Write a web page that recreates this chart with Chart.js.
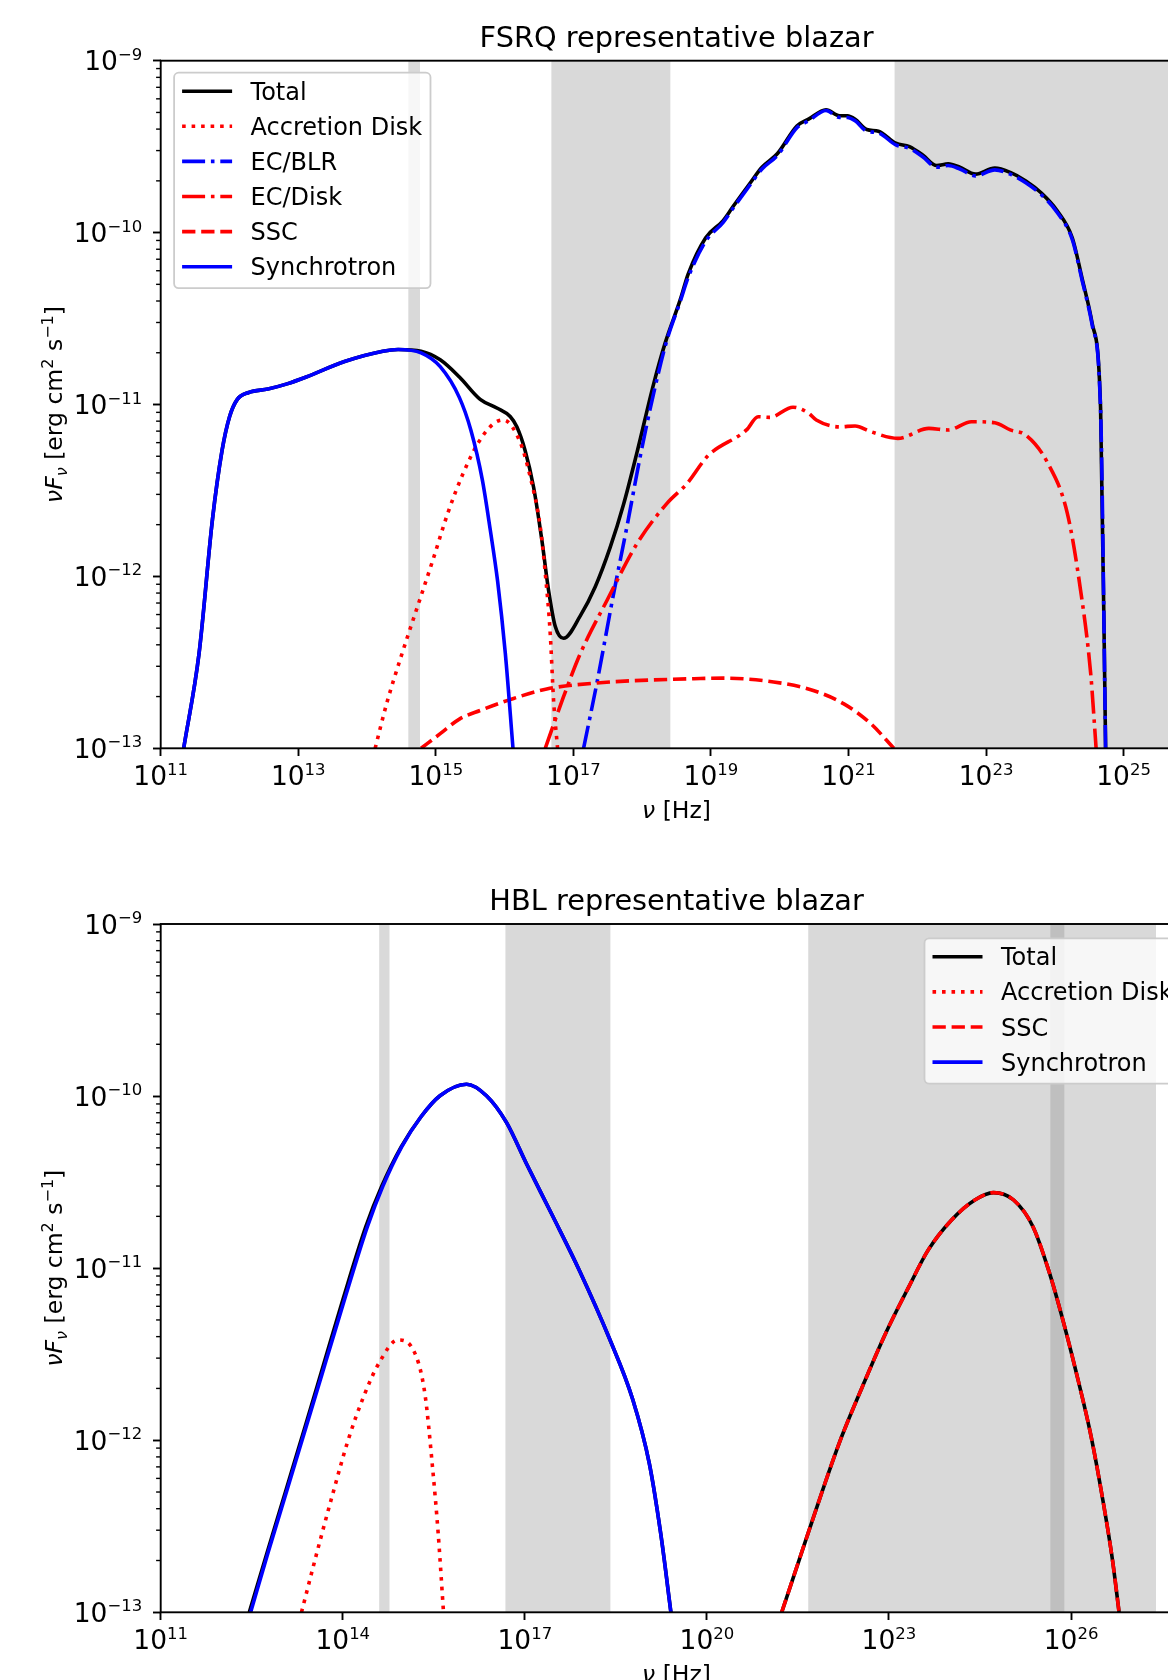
<!DOCTYPE html>
<html>
<head>
<meta charset="utf-8">
<script src="https://cdn.jsdelivr.net/npm/chart.js@4.4.1/dist/chart.umd.min.js"></script>
<style>
  html, body { margin: 0; padding: 0; background: #fff; overflow: hidden; width: 1168px; height: 1680px; }
  canvas { display: block; }
</style>
</head>
<body>
<canvas id="fsrq" width="1240" height="840"></canvas>
<canvas id="hbl" width="1240" height="840"></canvas>
<script>
// values are log10(nu [Hz]) and log10(nuFnu [erg cm^-2 s^-1])
const fsrqTotal = [[11.334,-13.0],[11.557,-12.45],[11.752,-11.67],[11.891,-11.27],[12.002,-11.07],[12.114,-10.97],[12.281,-10.93],[12.559,-10.91],[12.837,-10.88],[13.116,-10.84],[13.673,-10.75],[14.229,-10.69],[14.452,-10.68],[14.786,-10.69],[15.064,-10.74],[15.343,-10.84],[15.645,-10.97],[15.887,-11.02],[16.081,-11.07],[16.178,-11.13],[16.300,-11.27],[16.421,-11.48],[16.542,-11.79],[16.639,-12.08],[16.736,-12.29],[16.857,-12.36],[17.100,-12.23],[17.318,-12.06],[17.536,-11.83],[17.730,-11.58],[17.924,-11.28],[18.167,-10.88],[18.336,-10.64],[18.554,-10.39],[18.670,-10.24],[18.924,-10.03],[19.178,-9.93],[19.319,-9.85],[19.573,-9.71],[19.742,-9.62],[19.968,-9.54],[20.250,-9.38],[20.419,-9.34],[20.673,-9.285],[20.870,-9.32],[20.983,-9.32],[21.096,-9.34],[21.265,-9.40],[21.435,-9.41],[21.688,-9.48],[21.886,-9.50],[22.083,-9.55],[22.281,-9.61],[22.450,-9.60],[22.619,-9.62],[22.845,-9.66],[23.127,-9.625],[23.352,-9.65],[23.578,-9.70],[23.804,-9.77],[24.029,-9.87],[24.253,-10.03],[24.398,-10.27],[24.544,-10.53],[24.665,-11.02],[24.738,-13.0]];
const fsrqDisk = [[14.118,-13.0],[14.285,-12.74],[14.508,-12.45],[14.730,-12.18],[14.953,-11.91],[15.176,-11.63],[15.398,-11.40],[15.621,-11.22],[15.844,-11.11],[15.984,-11.09],[16.227,-11.22],[16.372,-11.42],[16.518,-11.71],[16.591,-11.98],[16.663,-12.33],[16.712,-12.72],[16.770,-13.0]];
const fsrqBLR = [[17.148,-13.0],[17.342,-12.62],[17.585,-12.10],[17.779,-11.71],[17.973,-11.30],[18.167,-10.935],[18.361,-10.624],[18.554,-10.40],[18.670,-10.26],[18.924,-10.05],[19.178,-9.94],[19.319,-9.86],[19.573,-9.72],[19.742,-9.63],[19.968,-9.55],[20.250,-9.39],[20.419,-9.35],[20.673,-9.29],[20.870,-9.33],[20.983,-9.33],[21.096,-9.35],[21.265,-9.41],[21.435,-9.42],[21.688,-9.49],[21.886,-9.51],[22.083,-9.56],[22.281,-9.62],[22.450,-9.61],[22.619,-9.63],[22.845,-9.67],[23.127,-9.635],[23.352,-9.66],[23.578,-9.71],[23.804,-9.78],[24.029,-9.88],[24.253,-10.04],[24.398,-10.28],[24.544,-10.54],[24.665,-11.03],[24.738,-13.0]];
const fsrqECDisk = [[16.591,-13.0],[16.857,-12.70],[17.100,-12.45],[17.488,-12.14],[17.924,-11.81],[18.361,-11.575],[18.652,-11.46],[18.953,-11.30],[19.517,-11.148],[19.686,-11.071],[19.855,-11.075],[20.193,-11.016],[20.419,-11.05],[20.532,-11.09],[20.870,-11.13],[21.096,-11.125],[21.322,-11.158],[21.716,-11.197],[22.168,-11.139],[22.450,-11.148],[22.788,-11.10],[23.127,-11.106],[23.352,-11.148],[23.578,-11.178],[23.889,-11.335],[24.180,-11.63],[24.374,-12.08],[24.520,-12.56],[24.600,-13.0]];
const fsrqSSC = [[14.786,-13.0],[15.064,-12.915],[15.343,-12.83],[15.645,-12.78],[16.130,-12.71],[16.612,-12.655],[17.342,-12.62],[18.845,-12.594],[19.178,-12.592],[19.911,-12.614],[20.476,-12.662],[20.927,-12.74],[21.322,-12.856],[21.660,-13.0]];
const fsrqSync = [[11.334,-13.0],[11.557,-12.45],[11.752,-11.67],[11.891,-11.27],[12.002,-11.07],[12.114,-10.97],[12.281,-10.93],[12.559,-10.91],[12.837,-10.88],[13.116,-10.84],[13.673,-10.75],[14.229,-10.69],[14.452,-10.68],[14.786,-10.70],[15.064,-10.78],[15.343,-10.96],[15.510,-11.15],[15.677,-11.44],[15.788,-11.72],[15.899,-12.03],[16.011,-12.45],[16.122,-13.0]];

const hblTotal = [[12.46,-13.0],[12.75,-12.657],[13.065,-12.289],[13.38,-11.921],[13.69,-11.553],[14.0,-11.185],[14.38,-10.759],[14.64,-10.526],[14.965,-10.294],[15.289,-10.12],[15.602,-9.998],[16.040,-9.931],[16.368,-9.998],[16.697,-10.153],[17.025,-10.392],[17.463,-10.70],[17.901,-11.015],[18.394,-11.409],[18.777,-11.762],[19.051,-12.135],[19.242,-12.55],[19.407,-13.0],[20.3,null],[21.233,-13.0],[21.668,-12.54],[22.179,-12.018],[22.562,-11.689],[22.946,-11.378],[23.329,-11.107],[23.648,-10.894],[24.032,-10.72],[24.415,-10.604],[24.722,-10.561],[25.054,-10.604],[25.373,-10.759],[25.629,-11.01],[25.821,-11.243],[26.076,-11.592],[26.332,-11.98],[26.524,-12.347],[26.683,-12.696],[26.792,-13.0]];
const hblDisk = [[13.32,-13.0],[13.586,-12.637],[13.838,-12.308],[14.090,-11.998],[14.343,-11.747],[14.595,-11.553],[14.910,-11.417],[15.162,-11.475],[15.352,-11.727],[15.478,-12.153],[15.572,-12.54],[15.66,-13.0]];
const hblSSC = [[21.233,-13.0],[21.668,-12.54],[22.179,-12.018],[22.562,-11.689],[22.946,-11.378],[23.329,-11.107],[23.648,-10.894],[24.032,-10.72],[24.415,-10.604],[24.722,-10.561],[25.054,-10.604],[25.373,-10.759],[25.629,-11.01],[25.821,-11.243],[26.076,-11.592],[26.332,-11.98],[26.524,-12.347],[26.683,-12.696],[26.792,-13.0]];
const hblSync = [[12.482,-13.0],[12.766,-12.657],[13.082,-12.289],[13.397,-11.921],[13.712,-11.553],[14.027,-11.185],[14.406,-10.759],[14.658,-10.526],[14.973,-10.294],[15.289,-10.12],[15.602,-9.998],[16.040,-9.931],[16.368,-9.998],[16.697,-10.153],[17.025,-10.392],[17.463,-10.70],[17.901,-11.015],[18.394,-11.409],[18.777,-11.762],[19.051,-12.135],[19.242,-12.55],[19.407,-13.0]];

const fsrqLabels = ['Total', 'Accretion Disk', 'EC/BLR', 'EC/Disk', 'SSC', 'Synchrotron'];
const fsrqSeries = [fsrqTotal, fsrqDisk, fsrqBLR, fsrqECDisk, fsrqSSC, fsrqSync];
const hblLabels = ['Total', 'Accretion Disk', 'SSC', 'Synchrotron'];
const hblSeries = [hblTotal, hblDisk, hblSSC, hblSync];

// shaded observing windows, log10(nu) from..to
const obsBands = [[14.60, 14.77], [16.68, 18.41], [21.67, 25.89], [25.66, 27.40]];

const yTickExps = [-13, -12, -11, -10, -9];
const fsrqXTickExps = [11, 13, 15, 17, 19, 21, 23, 25];
const hblXTickExps = [11, 14, 17, 20, 23, 26];

const FONT = '"DejaVu Sans", "Liberation Sans", sans-serif';
const LW = 3.6;
const DOTTED = [3.6, 5.9], DASHED = [13.3, 5.8], DASHDOT = [23, 5.8, 3.6, 5.8];
const seriesStyle = {
  'Total':          { color: '#000000', dash: [],      order: 6 },
  'Accretion Disk': { color: '#ff0000', dash: DOTTED,  order: 5 },
  'EC/BLR':         { color: '#0000ff', dash: DASHDOT, order: 4 },
  'EC/Disk':        { color: '#ff0000', dash: DASHDOT, order: 3 },
  'SSC':            { color: '#ff0000', dash: DASHED,  order: 2 },
  'Synchrotron':    { color: '#0000ff', dash: [],      order: 1 }
};

function toPoints(pairs) {
  return pairs.map(([lx, ly]) => ({ x: Math.pow(10, lx), y: ly === null ? null : Math.pow(10, ly) }));
}

function drawRich(ctx, segs, x, y, align) {
  let total = 0;
  const widths = segs.map(s => {
    ctx.font = (s[2] ? 'italic ' : '') + s[1] + 'px ' + FONT;
    const w = ctx.measureText(s[0]).width;
    total += w;
    return w;
  });
  let cx = align === 'center' ? x - total / 2 : (align === 'right' ? x - total : x);
  ctx.textAlign = 'left';
  ctx.textBaseline = 'alphabetic';
  segs.forEach((s, i) => {
    ctx.font = (s[2] ? 'italic ' : '') + s[1] + 'px ' + FONT;
    ctx.fillText(s[0], cx, y + s[3]);
    cx += widths[i];
  });
}

function powLabel(e) {
  return [['10', 26.5, false, 0], [String(e).replace('-', '\u2212'), 16.5, false, -10.5]];
}

const bandPlugin = {
  id: 'bands',
  beforeDatasetsDraw(chart) {
    const { ctx, chartArea: a } = chart;
    const x = chart.scales.x;
    ctx.save();
    ctx.beginPath();
    ctx.rect(a.left, a.top, a.right - a.left, a.bottom - a.top);
    ctx.clip();
    ctx.fillStyle = 'rgba(128,128,128,0.3)';
    obsBands.forEach(([lo, hi]) => {
      const x0 = x.getPixelForValue(Math.pow(10, lo));
      const x1 = x.getPixelForValue(Math.pow(10, hi));
      ctx.fillRect(x0, a.top, x1 - x0, a.bottom - a.top);
    });
    ctx.restore();
  }
};

function makeDecor(o) {
  return {
    id: 'decor',
    afterDraw(chart) {
      const { ctx, chartArea: a } = chart;
      const xs = chart.scales.x, ys = chart.scales.y;
      ctx.save();
      ctx.fillStyle = '#000';
      ctx.strokeStyle = '#000';

      // minor y ticks
      ctx.lineWidth = 1.4;
      for (let d = -13; d < -9; d++) {
        for (let m = 2; m <= 9; m++) {
          const py = ys.getPixelForValue(m * Math.pow(10, d));
          ctx.beginPath();
          ctx.moveTo(a.left, py);
          ctx.lineTo(a.left - 4.6, py);
          ctx.stroke();
        }
      }

      // spines
      ctx.lineWidth = 1.9;
      ctx.strokeRect(a.left, a.top, a.right - a.left, a.bottom - a.top);

      // tick labels
      o.xTicks.forEach(e => {
        drawRich(ctx, powLabel(e), xs.getPixelForValue(Math.pow(10, e)), a.bottom + 36.7, 'center');
      });
      yTickExps.forEach(e => {
        drawRich(ctx, powLabel(e), a.left - 18.5, ys.getPixelForValue(Math.pow(10, e)) + 9.5, 'right');
      });

      // title and axis labels
      const cx = (a.left + a.right) / 2;
      drawRich(ctx, [[o.title, 28.8, false, 0]], cx, a.top - 14.2, 'center');
      drawRich(ctx, [['\u03bd', 23.5, true, 0], [' [Hz]', 23.5, false, 0]], cx, a.bottom + 69.7, 'center');
      ctx.save();
      ctx.translate(61.5, (a.top + a.bottom) / 2);
      ctx.rotate(-Math.PI / 2);
      drawRich(ctx, [
        ['\u03bd', 23.5, true, 0], ['F', 23.5, true, 0], ['\u03bd', 16, true, 5],
        [' [erg cm', 23.5, false, 0], ['2', 16, false, -9],
        [' s', 23.5, false, 0], ['\u22121', 16, false, -9], [']', 23.5, false, 0]
      ], 0, 0, 'center');
      ctx.restore();

      // legend
      const L = o.legend;
      const rows = o.labels.length;
      const h = 18.5 + (rows - 1) * 35.1 + 21.5;
      ctx.beginPath();
      ctx.roundRect(L.x, L.y, 256.4, h, 4.6);
      ctx.fillStyle = 'rgba(255,255,255,0.8)';
      ctx.fill();
      ctx.lineWidth = 1.8;
      ctx.strokeStyle = '#cccccc';
      ctx.stroke();
      o.labels.forEach((lab, i) => {
        const st = seriesStyle[lab];
        const ry = L.y + 18.5 + i * 35.1;
        ctx.beginPath();
        ctx.setLineDash(st.dash);
        ctx.lineDashOffset = 0;
        ctx.lineWidth = LW;
        ctx.lineCap = 'butt';
        ctx.strokeStyle = st.color;
        ctx.moveTo(L.x + 8, ry);
        ctx.lineTo(L.x + 58, ry);
        ctx.stroke();
        ctx.setLineDash([]);
        ctx.fillStyle = '#000';
        drawRich(ctx, [[lab, 24, false, 0]], L.x + 76.5, ry + 8.5, 'left');
      });
      ctx.restore();
    }
  };
}

function makeChart(id, o) {
  const datasets = o.series.map((pairs, i) => {
    const st = seriesStyle[o.labels[i]];
    return {
      label: o.labels[i],
      data: toPoints(pairs),
      borderColor: st.color,
      backgroundColor: st.color,
      borderDash: st.dash,
      borderWidth: LW,
      borderCapStyle: 'butt',
      pointRadius: 0,
      fill: false,
      cubicInterpolationMode: 'monotone',
      spanGaps: false,
      order: st.order,
      clip: 0
    };
  });
  return new Chart(document.getElementById(id), {
    type: 'line',
    data: { datasets: datasets },
    options: {
      responsive: false,
      devicePixelRatio: 1,
      animation: false,
      events: [],
      layout: { padding: { left: 0, top: o.top, right: 47.6, bottom: 0 } },
      plugins: { legend: { display: false }, title: { display: false }, tooltip: { enabled: false } },
      scales: {
        x: {
          type: 'logarithmic',
          position: 'bottom',
          min: Math.pow(10, 11),
          max: Math.pow(10, o.xMax),
          afterBuildTicks: s => { s.ticks = o.xTicks.map(e => ({ value: Math.pow(10, e) })); },
          afterFit: s => { s.height = o.xAxisHeight; },
          ticks: { display: false },
          grid: { drawOnChartArea: false, drawTicks: true, tickLength: 7.7, tickWidth: 1.9, tickColor: '#000' },
          border: { display: false }
        },
        y: {
          type: 'logarithmic',
          position: 'left',
          min: 1e-13,
          max: 1e-9,
          afterBuildTicks: s => { s.ticks = yTickExps.map(e => ({ value: Math.pow(10, e) })); },
          afterFit: s => { s.width = 160.7; },
          ticks: { display: false },
          grid: { drawOnChartArea: false, drawTicks: true, tickLength: 7.7, tickWidth: 1.9, tickColor: '#000' },
          border: { display: false }
        }
      }
    },
    plugins: [bandPlugin, makeDecor(o)]
  });
}

makeChart('fsrq', {
  labels: fsrqLabels, series: fsrqSeries, xMax: 26, xTicks: fsrqXTickExps,
  top: 60.7, xAxisHeight: 91.7,
  title: 'FSRQ representative blazar',
  legend: { x: 174.1, y: 72.7 }
});

makeChart('hbl', {
  labels: hblLabels, series: hblSeries, xMax: 28, xTicks: hblXTickExps,
  top: 84, xAxisHeight: 67.7,
  title: 'HBL representative blazar',
  legend: { x: 924.5, y: 98.3 }
});
</script>
</body>
</html>
